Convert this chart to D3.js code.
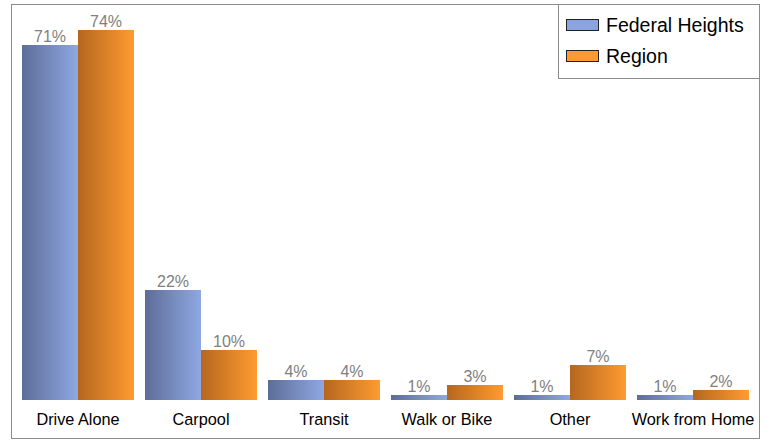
<!DOCTYPE html>
<html>
<head>
<meta charset="utf-8">
<script src="https://cdn.jsdelivr.net/npm/d3@7"></script>
<style>
html,body{margin:0;padding:0;background:#fff;}
svg{display:block;font-family:Arial,"Liberation Sans",sans-serif;}
</style>
</head>
<body>
<svg id="chart" width="770" height="440"></svg>
<script>
const categories = ["Drive Alone", "Carpool", "Transit", "Walk or Bike", "Other", "Work from Home"];
const seriesNames = ["Federal Heights", "Region"];
const federalHeights = [71, 22, 4, 1, 1, 1];
const region = [74, 10, 4, 3, 7, 2];
const valueLabels = [["71%","22%","4%","1%","1%","1%"],["74%","10%","4%","3%","7%","2%"]];

const svg = d3.select("#chart");
const defs = svg.append("defs");
const grads = [
  {id:"gBlue", from:"#5d6d98", to:"#8fa8e2"},
  {id:"gOrange", from:"#b5671f", to:"#ff9b31"}
];
grads.forEach(g => {
  const lg = defs.append("linearGradient").attr("id", g.id).attr("x1","0").attr("x2","1").attr("y1","0").attr("y2","0");
  lg.append("stop").attr("offset","0").attr("stop-color", g.from);
  lg.append("stop").attr("offset","1").attr("stop-color", g.to);
});
const swatchColors = ["#8aa4dd", "#fd9a33"];

// outer border
svg.append("rect").attr("x", 11.5).attr("y", 4.5).attr("width", 748).attr("height", 434)
  .attr("fill", "none").attr("stroke", "#8c8c8c").attr("stroke-width", 1);

const x0 = d3.scaleBand().domain(categories).range([16.5, 754.5])
  .paddingInner(11/123).paddingOuter(5.5/123);
const x1 = d3.scaleBand().domain(seriesNames).range([0, x0.bandwidth()]);
const y = d3.scaleLinear().domain([0, 80]).range([400, 0]);

const data = [federalHeights, region];
const fills = ["url(#gBlue)", "url(#gOrange)"];

data.forEach((vals, si) => {
  const g = svg.append("g");
  g.selectAll("rect").data(vals).join("rect")
    .attr("x", (d, i) => x0(categories[i]) + x1(seriesNames[si]))
    .attr("y", d => y(d))
    .attr("width", x1.bandwidth())
    .attr("height", d => y(0) - y(d))
    .attr("fill", fills[si]);
  g.selectAll("text").data(vals).join("text")
    .attr("x", (d, i) => x0(categories[i]) + x1(seriesNames[si]) + x1.bandwidth() / 2)
    .attr("y", d => y(d) - 3)
    .attr("text-anchor", "middle")
    .attr("font-size", 16)
    .attr("fill", "#808080")
    .text((d, i) => valueLabels[si][i]);
});

// category axis labels
const xAxis = d3.axisBottom(x0).tickSize(0).tickPadding(0);
const ax = svg.append("g").attr("transform", "translate(0,400)").call(xAxis);
ax.select(".domain").remove();
ax.selectAll("text").attr("font-size", 16.3).attr("fill", "#000")
  .attr("font-family", "Arial,'Liberation Sans',sans-serif")
  .attr("dy", null).attr("y", 24.5);

// legend
const lg = svg.append("g");
lg.append("rect").attr("x", 558.5).attr("y", 4.5).attr("width", 201).attr("height", 74)
  .attr("fill", "#fff").attr("stroke", "#8c8c8c");
seriesNames.forEach((name, i) => {
  lg.append("rect").attr("x", 566.5).attr("y", 19.5 + i * 31).attr("width", 32).attr("height", 11)
    .attr("fill", swatchColors[i]).attr("stroke", "#222").attr("stroke-width", 1);
  lg.append("text").attr("x", 606).attr("y", 31.5 + i * 31)
    .attr("font-size", 19.5).attr("fill", "#000").text(name);
});
</script>
</body>
</html>
